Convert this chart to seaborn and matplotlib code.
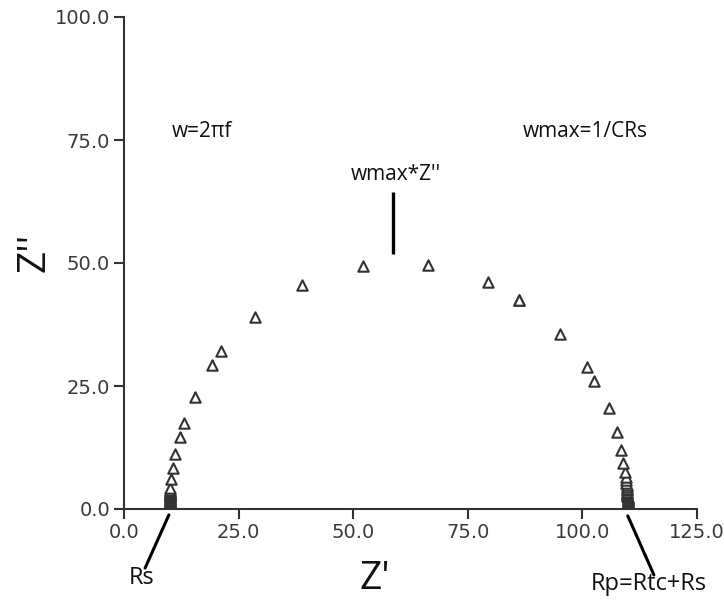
import matplotlib
matplotlib.use("Agg")
import matplotlib.pyplot as plt
import seaborn as sns
import pandas as pd

# Nyquist data read from the picture (Z' real part, Z'' imaginary part)
# listed from the Rs end (x≈10) up over the arc and then from the Rp end (x≈110) upward
z_real = [10.0, 10.0, 10.0, 10.0, 10.0, 10.0, 10.0, 10.0, 10.0, 10.0,
          10.0, 10.0, 10.0, 10.02, 10.02, 10.03, 10.03, 10.04, 10.05, 10.05,
          10.06, 10.07, 10.08, 10.1, 10.1, 10.12, 10.0,
          10.3, 10.7, 11.1, 12.2, 13.1, 15.5, 19.2, 21.2, 28.6, 38.8, 52.1,
          110.0, 110.0, 110.0, 110.0, 109.99, 109.98, 109.97, 109.96, 109.95, 109.94,
          109.93, 109.92, 109.9, 109.88, 109.86, 109.84, 109.82, 109.8, 109.78, 109.75,
          109.72, 109.7, 109.68, 109.66, 109.64, 109.62, 109.6,
          109.5, 109.3, 108.9, 108.4, 107.5, 105.8, 102.5, 101.0, 95.1, 86.2, 86.1, 79.4, 66.3]
z_imag = [0.0, 0.14, 0.3, 0.44, 0.6, 0.74, 0.9, 1.05, 1.2, 1.34,
          1.5, 1.66, 1.8, 1.95, 2.1, 2.26, 2.4, 2.55, 2.7, 2.86,
          3.0, 3.15, 3.3, 3.5, 3.7, 3.9, 4.3,
          6.1, 8.3, 11.2, 14.6, 17.5, 22.8, 29.3, 32.1, 39.0, 45.5, 49.4,
          0.0, 0.12, 0.25, 0.4, 0.55, 0.7, 0.85, 1.0, 1.15, 1.3,
          1.5, 1.65, 1.8, 2.0, 2.2, 2.4, 2.6, 2.8, 3.0, 3.25,
          3.5, 3.8, 4.1, 4.5, 4.9, 5.3, 5.8,
          6.5, 7.5, 9.3, 12.0, 15.7, 20.5, 26.0, 28.9, 35.6, 42.45, 42.55, 46.1, 49.6]
x_ticks = [0, 25, 50, 75, 100, 125]
y_ticks = [0, 25, 50, 75, 100]

sns.set_style("ticks")
plt.rcParams['font.family'] = ['DejaVu Sans']

fig = plt.figure(figsize=(7.24, 6), dpi=100)
ax = fig.add_axes([124 / 724, (600 - 509) / 600, 573 / 724, 492 / 600])

df = pd.DataFrame({"zr": z_real, "zi": z_imag})
sns.scatterplot(data=df, x="zr", y="zi", marker="^", s=56, color="white",
                edgecolor="#333333", linewidth=1.5, ax=ax, legend=False, zorder=3)

ax.set_xlim(0, 125)
ax.set_ylim(0, 100)
ax.set_xticks(x_ticks)
ax.set_yticks(y_ticks)
ax.set_xticklabels([f"{v:.1f}" for v in x_ticks])
ax.set_yticklabels([f"{v:.1f}" for v in y_ticks])
ax.tick_params(axis="both", direction="out", length=7, width=1.5, color="#333333",
               labelsize=14, labelcolor="#3a3a3a", pad=3)
sns.despine(ax=ax)
for s in ("left", "bottom"):
    ax.spines[s].set_linewidth(1.5)
    ax.spines[s].set_color("#333333")

lab = dict(family=["Open Sans", "DejaVu Sans"], color="#111111")
ax.set_xlabel("Z'", fontsize=28, va="center", **lab)
ax.set_ylabel("Z''", fontsize=28, va="center", **lab)
ax.xaxis.set_label_coords((375 - 124) / 573, (509 - 579) / 492)
ax.yaxis.set_label_coords((34 - 124) / 573, (509 - 252) / 492)

ann = dict(family=["Open Sans", "DejaVu Sans"], fontsize=15, color="#111111")
ann_big = dict(family=["Open Sans", "DejaVu Sans"], fontsize=17, color="#111111")
ax.text(10.5, 76.8, "w=2πf", ha="left", va="center", **ann)
ax.text(87.0, 76.8, "wmax=1/CRs", ha="left", va="center", **ann)
ax.text(59.3, 67.9, "wmax*Z''", ha="center", va="center", **ann)
ax.text(3.9, -14.0, "Rs", ha="center", va="center", clip_on=False, **ann_big)
ax.text(114.5, -15.2, "Rp=Rtc+Rs", ha="center", va="center", clip_on=False, **ann_big)

ax.plot([58.7, 58.7], [51.8, 64.4], color="black", lw=2.4, solid_capstyle="butt")
ax.plot([9.8, 4.6], [-1.2, -12.0], color="black", lw=2.2, clip_on=False)
ax.plot([109.9, 115.6], [-1.4, -13.4], color="black", lw=2.2, clip_on=False)

fig.savefig("out.png", dpi=100)
